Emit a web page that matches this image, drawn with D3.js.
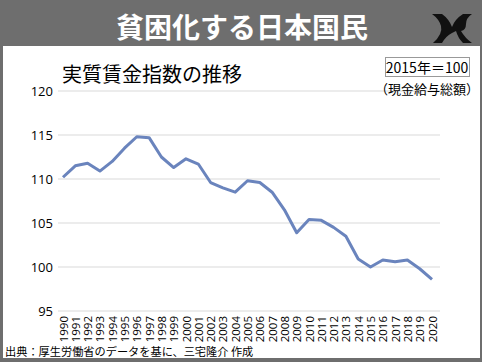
<!DOCTYPE html>
<html>
<head>
<meta charset="utf-8">
<script src="https://cdn.jsdelivr.net/npm/d3@7"></script>
<style>
body{margin:0;padding:0;background:#fff;}
svg{display:block;}
.jp{font-family:"Noto Sans CJK JP",sans-serif;}
.num{font-family:"Open Sans","Noto Sans",sans-serif;}
</style>
</head>
<body>
<div id="viz"></div>
<script>
var width=482;
var height=362;

var years=["1990","1991","1992","1993","1994","1995","1996","1997","1998","1999","2000","2001","2002","2003","2004","2005","2006","2007","2008","2009","2010","2011","2012","2013","2014","2015","2016","2017","2018","2019","2020"];
var wageIndex=[110.2,111.5,111.8,110.9,112.0,113.5,114.8,114.7,112.5,111.3,112.3,111.7,109.6,109.0,108.5,109.8,109.6,108.5,106.5,103.9,105.4,105.3,104.5,103.5,100.9,100.0,100.8,100.6,100.8,99.8,98.6];
var yTicks=[95,100,105,110,115,120];

var svg=d3.select("#viz")
  .append("svg")
  .attr("width",width)
  .attr("height",height);

// frame + header band
svg.append("rect")
  .attr("x",0).attr("y",0)
  .attr("width",width).attr("height",height)
  .attr("fill","#6e6e6e");
svg.append("rect")
  .attr("x",3).attr("y",46)
  .attr("width",width-5).attr("height",height-50)
  .attr("fill","#ffffff");

svg.append("text")
  .attr("x",242).attr("y",38)
  .attr("class","jp")
  .style("font-size","28px")
  .style("font-weight","bold")
  .style("fill","#ffffff")
  .style("text-anchor","middle")
  .text("貧困化する日本国民");

// logo mark
svg.append("path")
  .attr("d","M432,14 L442,14 Q449,19 452,27 Q455,19 463,14 L472,14 Q466,18 466,24 Q466,30 461,31 Q465,38 472,43 L463,43 Q458,38 456,31 L452,33 Q446,36 442,43 L433,43 Q443,34 441,26 Q439,19 432,14 Z")
  .attr("fill","#111111");

var XScale=d3.scalePoint()
  .domain(years)
  .range([63,432]);

var YScale=d3.scaleLinear()
  .domain([95,120])
  .range([311,91]);

// grid
svg.append("g")
  .selectAll("line")
  .data(yTicks)
  .enter()
  .append("line")
  .attr("x1",58).attr("x2",440)
  .attr("y1",function(d){return YScale(d);})
  .attr("y2",function(d){return YScale(d);})
  .attr("stroke","#d9d9d9")
  .attr("stroke-width",1);

var yAxis=d3.axisLeft(YScale)
  .tickValues(yTicks)
  .tickSize(0)
  .tickPadding(0);

var gy=svg.append("g")
  .attr("transform","translate(53,0)")
  .call(yAxis);
gy.select(".domain").remove();
gy.selectAll("text")
  .attr("class","num")
  .style("font-size","13px")
  .style("fill","#000");

var xAxis=d3.axisBottom(XScale)
  .tickSize(0)
  .tickPadding(0);

var gx=svg.append("g")
  .attr("transform","translate(0,314)")
  .call(xAxis);
gx.select(".domain").remove();
gx.selectAll("text")
  .attr("class","num")
  .style("font-size","11.5px")
  .style("fill","#000")
  .style("text-anchor","end")
  .attr("dy","0.35em")
  .attr("x",-2)
  .attr("y",0)
  .attr("transform","rotate(-90)");

var line=d3.line()
  .x(function(d,i){return XScale(years[i]);})
  .y(function(d){return YScale(d);});

svg.append("path")
  .datum(wageIndex)
  .attr("d",line)
  .attr("fill","none")
  .attr("stroke","#6a84bd")
  .attr("stroke-width",3)
  .attr("stroke-linejoin","round");

// titles
svg.append("text")
  .attr("x",62).attr("y",82)
  .attr("class","jp")
  .style("font-size","20px")
  .style("fill","#000")
  .text("実質賃金指数の推移");

svg.append("rect")
  .attr("x",385.5).attr("y",57.5)
  .attr("width",84).attr("height",19)
  .attr("fill","#fff")
  .attr("stroke","#999")
  .attr("stroke-width",1);
svg.append("text")
  .attr("x",427).attr("y",73)
  .attr("class","jp")
  .style("font-size","14px")
  .style("fill","#000")
  .style("text-anchor","middle")
  .text("2015年＝100");
svg.append("text")
  .attr("x",427).attr("y",94)
  .attr("class","jp")
  .style("font-size","13px")
  .style("fill","#000")
  .style("text-anchor","middle")
  .text("（現金給与総額）");

svg.append("text")
  .attr("x",5).attr("y",356)
  .attr("class","jp")
  .style("font-size","11.2px")
  .style("fill","#000")
  .text("出典：厚生労働省のデータを基に、三宅隆介 作成");
</script>
</body>
</html>
